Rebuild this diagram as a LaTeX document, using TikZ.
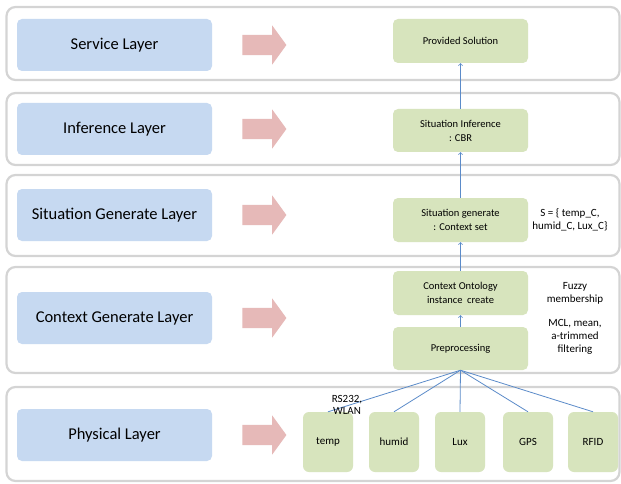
\documentclass[tikz,border=0pt]{standalone}
\usepackage{fontspec}
\setmainfont{Carlito}
\usepackage{xcolor}
\usepackage{tikz}
\usetikzlibrary{shapes.arrows,positioning}

\definecolor{layerblue}{RGB}{198,217,241}
\definecolor{boxgreen}{RGB}{215,228,189}
\definecolor{arrowpink}{RGB}{230,185,184}
\definecolor{linkblue}{RGB}{91,139,201}
\definecolor{framegray}{RGB}{212,212,212}

\begin{document}
\begin{tikzpicture}[
    x=1pt, y=-1pt,
    frame/.style={rectangle, draw=framegray, line width=2.2pt, rounded corners=9pt, fill=white, minimum width=613pt},
    layer/.style={rectangle, rounded corners=5pt, fill=layerblue, minimum width=195pt, minimum height=52pt, font=\fontsize{16.5}{20}\selectfont},
    flowarrow/.style={single arrow, fill=arrowpink, inner xsep=0pt, inner ysep=10pt, single arrow head extend=9.5pt, single arrow tip angle=108, minimum height=44pt},
    stage/.style={rectangle, rounded corners=5pt, fill=boxgreen, minimum width=135pt, minimum height=44pt, align=center, font=\fontsize{10.5}{14}\selectfont},
    sensor/.style={rectangle, rounded corners=6pt, fill=boxgreen, minimum width=50pt, minimum height=60pt, font=\fontsize{11}{13}\selectfont},
    note/.style={align=center, font=\fontsize{11}{13}\selectfont},
    arrow/.style={->, draw=linkblue, line width=0.8pt},
    link/.style={draw=linkblue, line width=0.8pt}
]
\useasboundingbox (0,0) rectangle (621,484);

% layer frames
\node[frame, minimum height=73pt] (fsvc) at (313,43.5) {};
\node[frame, minimum height=72pt] (finf) at (313,129) {};
\node[frame, minimum height=81pt] (fsit) at (313,215.5) {};
\node[frame, minimum height=106pt] (fctx) at (313,320) {};
\node[frame, minimum height=94pt] (fphy) at (313,434) {};

% layer names
\node[layer] (svc) at (114.5,45) {Service Layer};
\node[layer] (inf) at (114.5,129) {Inference Layer};
\node[layer] (sit) at (114.5,215) {Situation Generate Layer};
\node[layer] (ctx) at (114.5,318) {Context Generate Layer};
\node[layer] (phy) at (114.5,435) {Physical Layer};

\node[flowarrow, right=30pt of svc] (svcA) {};
\node[flowarrow, right=30pt of inf] (infA) {};
\node[flowarrow, right=30pt of sit] (sitA) {};
\node[flowarrow, right=30pt of ctx] (ctxA) {};
\node[flowarrow, right=30pt of phy] (phyA) {};

% processing chain
\node[stage] (sol) at (460.5,41) {Provided Solution};
\node[stage, minimum height=43pt] (cbr) at (460.5,130.5) {Situation Inference\\: CBR};
\node[stage] (set) at (460.5,220) {Situation generate\\: Context set};
\node[stage] (onto) at (460.5,293) {Context Ontology\\instance~~create};
\node[stage, minimum height=43pt] (pre) at (460.5,348.5) {Preprocessing};

\node[sensor] (temp) at (328,442) {temp};
\node[sensor] (humid) at (394,442) {humid};
\node[sensor] (lux) at (460,442) {Lux};
\node[sensor] (gps) at (528,442) {GPS};
\node[sensor] (rfid) at (593,442) {RFID};

\node[note] (sdef) at (570,220) {S = \{ temp\_C,\\humid\_C, Lux\_C\}};
\node[note] (fuzzy) at (575,293) {Fuzzy\\membership};
\node[note] (filt) at (575,337) {MCL, mean,\\a-trimmed\\filtering};

\draw[arrow] (cbr) -- (sol);
\draw[arrow] (set) -- (cbr);
\draw[arrow] (onto) -- (set);
\draw[arrow] (pre) -- (onto);

\draw[link] (pre.south) -- (temp.north);
\draw[link] (pre.south) -- (humid.north);
\draw[link] (pre.south) -- (lux.north);
\draw[link] (pre.south) -- (gps.north);
\draw[link] (pre.south) -- (rfid.north);

\node[note, font=\fontsize{11}{12}\selectfont] (rs) at (347,405) {RS232,\\WLAN};
\end{tikzpicture}
\end{document}
